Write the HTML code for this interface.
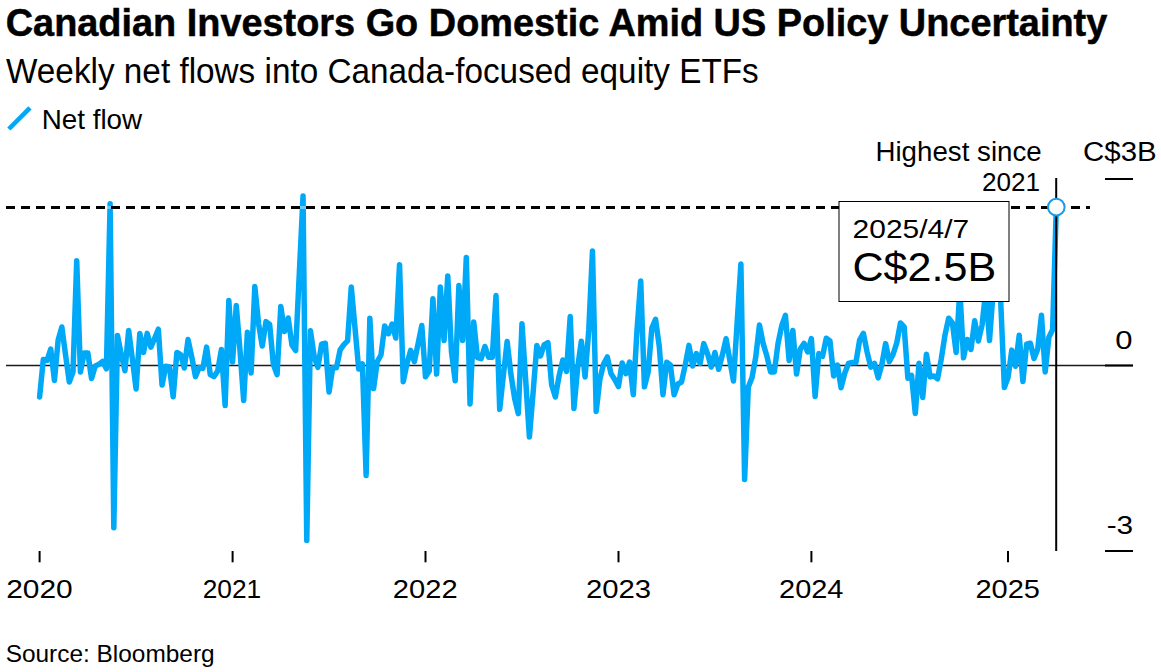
<!DOCTYPE html>
<html><head><meta charset="utf-8"><title>Canadian Investors Go Domestic Amid US Policy Uncertainty</title>
<style>html,body{margin:0;padding:0;background:#fff;}svg{display:block;}</style>
</head><body>
<svg width="1161" height="672" viewBox="0 0 1161 672">
<rect width="1161" height="672" fill="#fff"/>
<g font-family="'Liberation Sans', Arial, sans-serif" fill="#000">
<text id="title" x="5.72" y="35.80" font-size="39.5" font-weight="bold" textLength="1101.52" lengthAdjust="spacingAndGlyphs" stroke="#000" stroke-width="0.5">Canadian Investors Go Domestic Amid US Policy Uncertainty</text>
<text id="sub" x="6.03" y="82.80" font-size="34.2" font-weight="normal" textLength="752.72" lengthAdjust="spacingAndGlyphs">Weekly net flows into Canada-focused equity ETFs</text>
<text id="legend" x="41.72" y="128.70" font-size="27.7" font-weight="normal" textLength="100.43" lengthAdjust="spacingAndGlyphs">Net flow</text>
<text id="hs" x="875.46" y="160.60" font-size="27.0" font-weight="normal" textLength="166.26" lengthAdjust="spacingAndGlyphs">Highest since</text>
<text id="y2021" x="982.01" y="190.80" font-size="26.7" font-weight="normal" textLength="58.14" lengthAdjust="spacingAndGlyphs">2021</text>
<text id="c3b" x="1083.02" y="161.30" font-size="26.8" font-weight="normal" textLength="73.68" lengthAdjust="spacingAndGlyphs">C$3B</text>
<text id="zero" x="1115.26" y="348.50" font-size="26.6" font-weight="normal" textLength="17.26" lengthAdjust="spacingAndGlyphs">0</text>
<text id="m3" x="1106.67" y="534.00" font-size="26.6" font-weight="normal" textLength="26.51" lengthAdjust="spacingAndGlyphs">-3</text>
<text id="src" x="5.67" y="661.60" font-size="24.3" font-weight="normal" textLength="208.97" lengthAdjust="spacingAndGlyphs">Source: Bloomberg</text>
<text id="x2020" x="6.20" y="597.60" font-size="26.7" font-weight="normal" textLength="66.57" lengthAdjust="spacingAndGlyphs">2020</text>
<text id="x2021" x="202.74" y="597.60" font-size="26.7" font-weight="normal" textLength="58.48" lengthAdjust="spacingAndGlyphs">2021</text>
<text id="x2022" x="392.86" y="597.60" font-size="26.7" font-weight="normal" textLength="64.75" lengthAdjust="spacingAndGlyphs">2022</text>
<text id="x2023" x="585.96" y="597.60" font-size="26.7" font-weight="normal" textLength="65.16" lengthAdjust="spacingAndGlyphs">2023</text>
<text id="x2024" x="779.07" y="597.60" font-size="26.7" font-weight="normal" textLength="64.37" lengthAdjust="spacingAndGlyphs">2024</text>
<text id="x2025" x="975.44" y="597.60" font-size="26.7" font-weight="normal" textLength="64.57" lengthAdjust="spacingAndGlyphs">2025</text>
</g>
<line x1="8.85" y1="129" x2="29.95" y2="107.8" stroke="#00a9f7" stroke-width="4.6"/>
<line x1="6" y1="365.5" x2="1133" y2="365.5" stroke="#1a1a1a" stroke-width="1.5"/>
<line x1="1105" y1="179" x2="1133" y2="179" stroke="#000" stroke-width="2"/>
<line x1="1105" y1="365.5" x2="1133" y2="365.5" stroke="#000" stroke-width="2"/>
<line x1="1105" y1="551" x2="1133" y2="551" stroke="#000" stroke-width="2"/>
<line x1="39.6" y1="551" x2="39.6" y2="562.3" stroke="#000" stroke-width="2"/>
<line x1="232.6" y1="551" x2="232.6" y2="562.3" stroke="#000" stroke-width="2"/>
<line x1="425.5" y1="551" x2="425.5" y2="562.3" stroke="#000" stroke-width="2"/>
<line x1="618.5" y1="551" x2="618.5" y2="562.3" stroke="#000" stroke-width="2"/>
<line x1="811.4" y1="551" x2="811.4" y2="562.3" stroke="#000" stroke-width="2"/>
<line x1="1008.0" y1="551" x2="1008.0" y2="562.3" stroke="#000" stroke-width="2"/>
<path d="M39.60,397.00 L43.31,359.50 L47.02,360.50 L50.73,349.00 L54.44,380.50 L58.15,340.00 L61.86,327.00 L65.57,355.00 L69.28,382.00 L73.00,372.00 L76.71,260.70 L80.42,372.00 L84.13,353.00 L87.84,353.00 L91.55,378.50 L95.26,366.00 L98.97,364.30 L102.68,361.30 L106.39,368.80 L110.10,203.80 L113.81,527.70 L117.52,335.60 L121.23,354.60 L124.94,370.70 L128.65,330.40 L132.37,359.00 L136.08,389.00 L139.79,333.40 L143.50,352.40 L147.21,333.40 L150.92,347.20 L154.63,338.30 L158.34,329.20 L162.05,385.10 L165.76,366.20 L169.47,367.00 L173.18,396.80 L176.89,352.40 L180.60,354.60 L184.31,368.00 L188.02,339.60 L191.73,356.80 L195.45,376.60 L199.16,367.50 L202.87,368.40 L206.58,347.10 L210.29,374.60 L214.00,376.60 L217.71,371.00 L221.42,349.50 L225.13,405.60 L228.84,300.40 L232.55,362.00 L236.26,305.40 L239.97,350.00 L243.68,400.60 L247.39,332.30 L251.10,372.90 L254.81,286.40 L258.53,323.60 L262.24,346.00 L265.95,321.60 L269.66,324.50 L273.37,364.60 L277.08,374.60 L280.79,306.40 L284.50,331.60 L288.21,318.00 L291.92,345.00 L295.63,350.50 L299.34,273.00 L303.05,196.00 L306.76,540.50 L310.47,330.80 L314.18,356.50 L317.90,367.40 L321.61,344.20 L325.32,343.20 L329.03,392.00 L332.74,367.70 L336.45,367.70 L340.16,349.90 L343.87,344.60 L347.58,340.90 L351.29,287.00 L355.00,328.00 L358.71,369.00 L362.42,364.00 L366.13,475.40 L369.84,318.20 L373.55,388.60 L377.26,361.60 L380.98,355.00 L384.69,325.90 L388.40,333.70 L392.11,324.00 L395.82,338.00 L399.53,264.70 L403.24,381.70 L406.95,363.80 L410.66,350.40 L414.37,361.60 L418.08,343.80 L421.79,325.50 L425.50,376.70 L429.21,371.00 L432.92,298.70 L436.63,374.00 L440.34,287.00 L444.06,340.50 L447.77,276.00 L451.48,352.00 L455.19,380.80 L458.90,285.60 L462.61,340.50 L466.32,257.40 L470.03,404.00 L473.74,322.00 L477.45,357.50 L481.16,358.60 L484.87,346.50 L488.58,357.20 L492.29,357.20 L496.00,295.60 L499.71,409.30 L503.43,374.80 L507.14,341.50 L510.85,373.70 L514.56,398.00 L518.27,413.60 L521.98,323.70 L525.69,380.00 L529.40,437.00 L533.11,392.50 L536.82,345.50 L540.53,356.00 L544.24,344.60 L547.95,342.70 L551.66,385.00 L555.37,397.00 L559.08,376.00 L562.79,360.00 L566.51,371.50 L570.22,316.50 L573.93,408.50 L577.64,368.00 L581.35,341.20 L585.06,377.00 L588.77,330.00 L592.48,251.00 L596.19,411.50 L599.90,379.00 L603.61,364.00 L607.32,357.00 L611.03,373.60 L614.74,379.50 L618.45,386.50 L622.16,363.00 L625.87,373.70 L629.59,362.00 L633.30,394.80 L637.01,330.00 L640.72,281.00 L644.43,386.80 L648.14,372.00 L651.85,328.00 L655.56,319.30 L659.27,346.40 L662.98,394.80 L666.69,362.30 L670.40,365.00 L674.11,394.80 L677.82,384.00 L681.53,382.00 L685.24,365.00 L688.96,345.40 L692.67,366.00 L696.38,353.60 L700.09,363.40 L703.80,343.60 L707.51,353.60 L711.22,367.00 L714.93,352.50 L718.64,369.30 L722.35,355.00 L726.06,338.80 L729.77,360.00 L733.48,381.00 L737.19,322.00 L740.90,264.00 L744.61,479.50 L748.32,387.00 L752.04,377.60 L755.75,357.00 L759.46,325.00 L763.17,343.60 L766.88,356.00 L770.59,372.00 L774.30,372.00 L778.01,343.60 L781.72,325.70 L785.43,315.40 L789.14,360.50 L792.85,330.40 L796.56,374.00 L800.27,349.00 L803.98,343.40 L807.69,352.00 L811.40,338.60 L815.12,396.60 L818.83,353.60 L822.54,356.30 L826.25,338.20 L829.96,341.00 L833.67,376.00 L837.38,365.00 L841.09,387.70 L844.80,373.00 L848.51,363.40 L852.22,362.50 L855.93,362.50 L859.64,340.00 L863.35,333.30 L867.06,351.80 L870.77,367.10 L874.49,363.40 L878.20,377.90 L881.91,364.30 L885.62,343.60 L889.33,361.60 L893.04,354.50 L896.75,342.90 L900.46,323.00 L904.17,326.80 L907.88,378.20 L911.59,375.50 L915.30,413.60 L919.01,363.20 L922.72,397.50 L926.43,354.30 L930.14,376.80 L933.85,375.90 L937.57,378.75 L941.28,358.90 L944.99,335.00 L948.70,318.20 L952.41,323.00 L956.12,352.50 L959.83,290.00 L963.54,357.80 L967.25,339.50 L970.96,349.50 L974.67,320.80 L978.38,341.00 L982.09,325.00 L985.80,290.00 L989.51,340.50 L993.22,290.00 L996.93,295.00 L1000.65,300.00 L1004.36,387.50 L1008.07,377.40 L1011.78,350.10 L1015.49,366.20 L1019.20,335.30 L1022.91,381.50 L1026.62,344.20 L1030.33,343.20 L1034.04,358.50 L1037.75,349.00 L1041.46,315.20 L1045.17,371.90 L1048.88,337.20 L1052.59,329.80 L1056.30,207.30" fill="none" stroke="#00a9f7" stroke-width="5.5" stroke-linejoin="round" stroke-linecap="round"/>
<line x1="6" y1="207.5" x2="1090" y2="207.5" stroke="#fff" stroke-opacity="0.42" stroke-width="3"/>
<line x1="6" y1="207.5" x2="1090" y2="207.5" stroke="#000" stroke-width="3" stroke-dasharray="9 6"/>
<line x1="1056.2" y1="178" x2="1056.2" y2="551" stroke="#000" stroke-width="2"/>
<circle cx="1056.3" cy="207.1" r="8.3" fill="#fff" stroke="#1a9de6" stroke-width="2"/>
<rect x="839" y="201.5" width="170" height="100" fill="#fff" stroke="#000" stroke-width="1"/>
<g font-family="'Liberation Sans', Arial, sans-serif" fill="#000">
<text id="date" x="852.60" y="238.10" font-size="26.6" font-weight="normal" textLength="116.60" lengthAdjust="spacingAndGlyphs">2025/4/7</text>
<text id="val" x="852.43" y="280.70" font-size="40.5" font-weight="normal" textLength="143.71" lengthAdjust="spacingAndGlyphs">C$2.5B</text>
</g>
</svg>
</body></html>
